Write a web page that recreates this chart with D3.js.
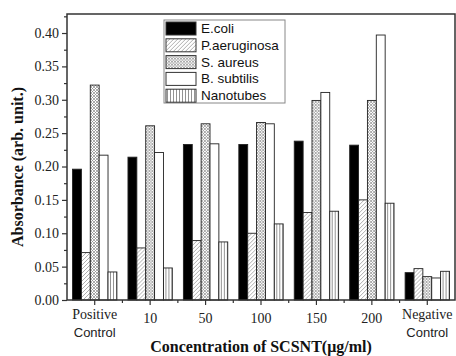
<!DOCTYPE html>
<html>
<head>
<meta charset="utf-8">
<script src="https://cdn.jsdelivr.net/npm/d3@7"></script>
<style>
  body { margin: 0; background: #fff; }
</style>
</head>
<body>
<svg class="chart"></svg>
<script>
// categories and series
let categories = ["Positive Control", "10", "50", "100", "150", "200", "Negative Control"];
let series = ["E.coli", "P.aeruginosa", "S. aureus", "B. subtilis", "Nanotubes"];
let ecoli       = [0.196, 0.214, 0.233, 0.233, 0.238, 0.232, 0.041];
let paeruginosa = [0.071, 0.078, 0.089, 0.100, 0.131, 0.150, 0.047];
let saureus     = [0.322, 0.261, 0.264, 0.266, 0.299, 0.299, 0.035];
let bsubtilis   = [0.217, 0.221, 0.234, 0.264, 0.311, 0.397, 0.033];
let nanotubes   = [0.042, 0.048, 0.087, 0.114, 0.133, 0.145, 0.043];
let yTicks = [0, 0.05, 0.10, 0.15, 0.20, 0.25, 0.30, 0.35, 0.40];

let values = [ecoli, paeruginosa, saureus, bsubtilis, nanotubes];

let width = 456, height = 356;
let margin = {left: 67, right: 1, top: 14, bottom: 56};

let svg = d3.select('.chart')
    .attr("width", width)
    .attr("height", height);

// patterns for the bar fills
let defs = svg.append("defs");

let hatch = defs.append("pattern")
    .attr("id", "hatch")
    .attr("patternUnits", "userSpaceOnUse")
    .attr("width", 4).attr("height", 4);
hatch.append("rect").attr("width", 4).attr("height", 4).attr("fill", "#fff");
hatch.append("path")
    .attr("d", "M-1,1 l2,-2 M0,4 l4,-4 M3,5 l2,-2")
    .attr("stroke", "#999").attr("stroke-width", 0.8);

let cross = defs.append("pattern")
    .attr("id", "cross")
    .attr("patternUnits", "userSpaceOnUse")
    .attr("width", 3).attr("height", 3);
cross.append("rect").attr("width", 3).attr("height", 3).attr("fill", "#fff");
cross.append("path")
    .attr("d", "M0,0 L3,3 M3,0 L0,3")
    .attr("stroke", "#888").attr("stroke-width", 0.7);

let vert = defs.append("pattern")
    .attr("id", "vert")
    .attr("patternUnits", "userSpaceOnUse")
    .attr("width", 3).attr("height", 3);
vert.append("rect").attr("width", 3).attr("height", 3).attr("fill", "#fff");
vert.append("path")
    .attr("d", "M1.5,0 L1.5,3")
    .attr("stroke", "#777").attr("stroke-width", 0.8);

let fills = ["#000", "url(#hatch)", "url(#cross)", "#fff", "url(#vert)"];

let x = d3.scaleBand()
    .domain(categories)
    .range([margin.left, width - margin.right])
    .padding(0);

let xs = d3.scaleBand()
    .domain(series)
    .range([x.bandwidth() * 0.1, x.bandwidth() * 0.9])
    .padding(0);

let y = d3.scaleLinear()
    .domain([0, 0.4285])
    .range([height - margin.bottom, margin.top]);

// bars
let groups = svg.append("g").selectAll("g")
    .data(categories)
    .enter()
    .append("g")
    .attr("transform", d => "translate(" + x(d) + ",0)");

groups.selectAll("rect")
    .data((c, i) => series.map((s, j) => ({s: s, j: j, v: values[j][i]})))
    .enter()
    .append("rect")
    .attr("x", d => xs(d.s))
    .attr("y", d => y(d.v))
    .attr("width", xs.bandwidth())
    .attr("height", d => y(0) - y(d.v))
    .attr("fill", d => fills[d.j])
    .attr("stroke", "#222")
    .attr("stroke-width", 0.9);

// y axis
let yAxis = svg.append("g")
    .attr("transform", "translate(" + margin.left + ",0)")
    .call(d3.axisLeft(y).tickValues(yTicks).tickFormat(d3.format(".2f")).tickSize(5).tickSizeOuter(0));
yAxis.select(".domain").remove();
yAxis.selectAll("text")
    .attr("font-family", "Liberation Serif")
    .attr("font-size", 14)
    .attr("fill", "#222")
    .attr("x", -8);
yAxis.selectAll("line").attr("stroke", "#333").attr("stroke-width", 1.2);

let yMinor = svg.append("g")
    .attr("transform", "translate(" + margin.left + ",0)")
    .call(d3.axisLeft(y).tickValues(d3.range(0.025, 0.43, 0.05)).tickFormat("").tickSize(3).tickSizeOuter(0));
yMinor.select(".domain").remove();
yMinor.selectAll("line").attr("stroke", "#333").attr("stroke-width", 1.2);

// x axis
let xAxis = svg.append("g")
    .attr("transform", "translate(0," + y(0) + ")")
    .call(d3.axisBottom(x).tickFormat("").tickSize(5).tickSizeOuter(0));
xAxis.select(".domain").remove();
xAxis.selectAll("line").attr("stroke", "#333").attr("stroke-width", 1.2);

let xMinor = svg.append("g")
    .attr("transform", "translate(0," + y(0) + ")");
xMinor.selectAll("line")
    .data(categories.slice(1))
    .enter()
    .append("line")
    .attr("x1", d => x(d)).attr("x2", d => x(d))
    .attr("y1", 0).attr("y2", 3)
    .attr("stroke", "#333").attr("stroke-width", 1.2);

// category labels
categories.forEach(c => {
    let cx = x(c) + x.bandwidth() / 2;
    let parts = c.split(" ");
    if (parts.length === 1) {
        svg.append("text")
            .attr("x", cx).attr("y", 323)
            .attr("text-anchor", "middle")
            .attr("font-family", "Liberation Serif")
            .attr("font-size", 14)
            .attr("fill", "#222")
            .text(c);
    } else {
        svg.append("text")
            .attr("x", cx).attr("y", 319)
            .attr("text-anchor", "middle")
            .attr("font-family", "Liberation Serif")
            .attr("font-size", 14)
            .attr("fill", "#222")
            .text(parts[0]);
        svg.append("text")
            .attr("x", cx).attr("y", 337)
            .attr("text-anchor", "middle")
            .attr("font-family", "Liberation Sans")
            .attr("font-size", 13)
            .attr("fill", "#222")
            .text(parts[1]);
    }
});

// frame
svg.append("rect")
    .attr("x", margin.left)
    .attr("y", margin.top)
    .attr("width", width - margin.right - margin.left)
    .attr("height", y(0) - margin.top)
    .attr("fill", "none")
    .attr("stroke", "#333")
    .attr("stroke-width", 1.5);

// axis titles
svg.append("text")
    .attr("transform", "translate(23,167) rotate(-90)")
    .attr("text-anchor", "middle")
    .attr("font-family", "Liberation Serif")
    .attr("font-weight", "bold")
    .attr("font-size", 16)
    .attr("fill", "#111")
    .text("Absorbance (arb. unit.)");

svg.append("text")
    .attr("x", 261).attr("y", 352)
    .attr("text-anchor", "middle")
    .attr("font-family", "Liberation Serif")
    .attr("font-weight", "bold")
    .attr("font-size", 16)
    .attr("fill", "#111")
    .text("Concentration of SCSNT(\u03bcg/ml)");

// legend
let legend = svg.append("g").attr("transform", "translate(164,20)");
legend.append("rect")
    .attr("width", 121).attr("height", 83)
    .attr("fill", "#fff")
    .attr("stroke", "#888")
    .attr("stroke-width", 1);

let items = legend.selectAll("g.item")
    .data(series)
    .enter()
    .append("g")
    .attr("class", "item")
    .attr("transform", (d, i) => "translate(2," + (2 + i * 16.8) + ")");

items.append("rect")
    .attr("width", 30).attr("height", 13)
    .attr("fill", (d, i) => fills[i])
    .attr("stroke", "#333")
    .attr("stroke-width", 1);

items.append("text")
    .attr("x", 35).attr("y", 11)
    .attr("font-family", "Liberation Sans")
    .attr("font-size", 13.5)
    .attr("fill", "#111")
    .text(d => d);
</script>
</body>
</html>
